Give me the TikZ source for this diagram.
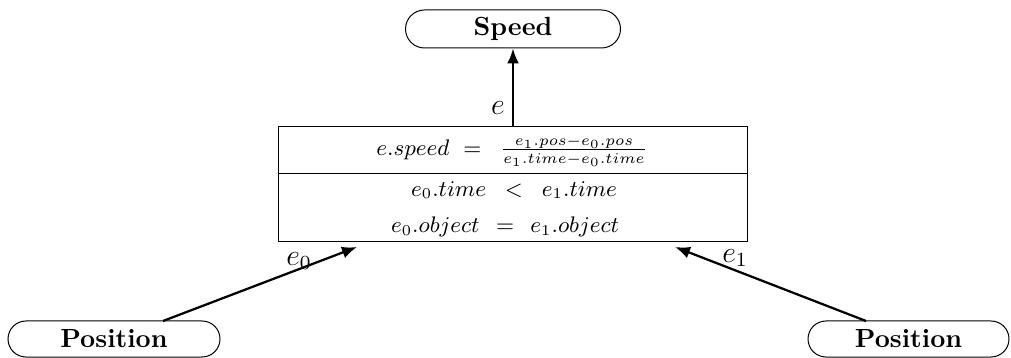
\documentclass[tikz,border=0pt]{standalone}
\usetikzlibrary{shapes.misc,arrows.meta,calc}
\begin{document}
\begin{tikzpicture}[x=0.4pt,y=-0.4pt,
  term/.style={rounded rectangle, draw, thin, font=\fontsize{10.5}{12}\selectfont\bfseries, inner sep=0pt},
  conn/.style={draw, line width=0.9pt, -{Latex[length=6pt,width=4.8pt]}},
  lbl/.style={font=\large, inner sep=1pt},
  row/.style={font=\fontsize{8.6}{10}\selectfont, inner sep=0pt}]
\useasboundingbox (0,0) rectangle (1011,358);
\node[term, minimum width=86pt, minimum height=15.2pt] (speed) at (513,29) {Speed};
\node[term, minimum width=84.8pt, minimum height=14.4pt] (posl) at (114,339) {Position};
\node[term, minimum width=80.4pt, minimum height=14.4pt] (posr) at (908.5,339) {Position};
\node[draw, thin, minimum width=187.6pt, minimum height=46pt, inner sep=0pt] (box) at (512.5,184.5) {};
\coordinate (divl) at (278,174);
\coordinate (divr) at (747,174);
\draw[thin] (divl) -- (divr);
\node[row] (r1) at (512,151) {$e.speed\hspace{3pt} = \hspace{5pt}\frac{e_1.pos - e_0.pos}{e_1.time - e_0.time}$};
\node[row] (r2) at (514,190) {$e_0.time\hspace{5pt} < \hspace{5pt}e_1.time$};
\node[row] (r3) at (505,227) {$e_0.object\hspace{4pt} = \hspace{4pt}e_1.object$};
\coordinate (bt) at (513,127);
\coordinate (bl) at (357,247);
\coordinate (br) at (675,247);
\coordinate (sl) at (163,321);
\coordinate (sr) at (866,321);
\draw[conn] (bt) -- (speed.south);
\draw[conn] (sl) -- (bl);
\draw[conn] (sr) -- (br);
\node[lbl] (le) at (498,108) {$e$};
\node[lbl] (le0) at (299,261) {$e_0$};
\node[lbl] (le1) at (735,258) {$e_1$};
\end{tikzpicture}
\end{document}
